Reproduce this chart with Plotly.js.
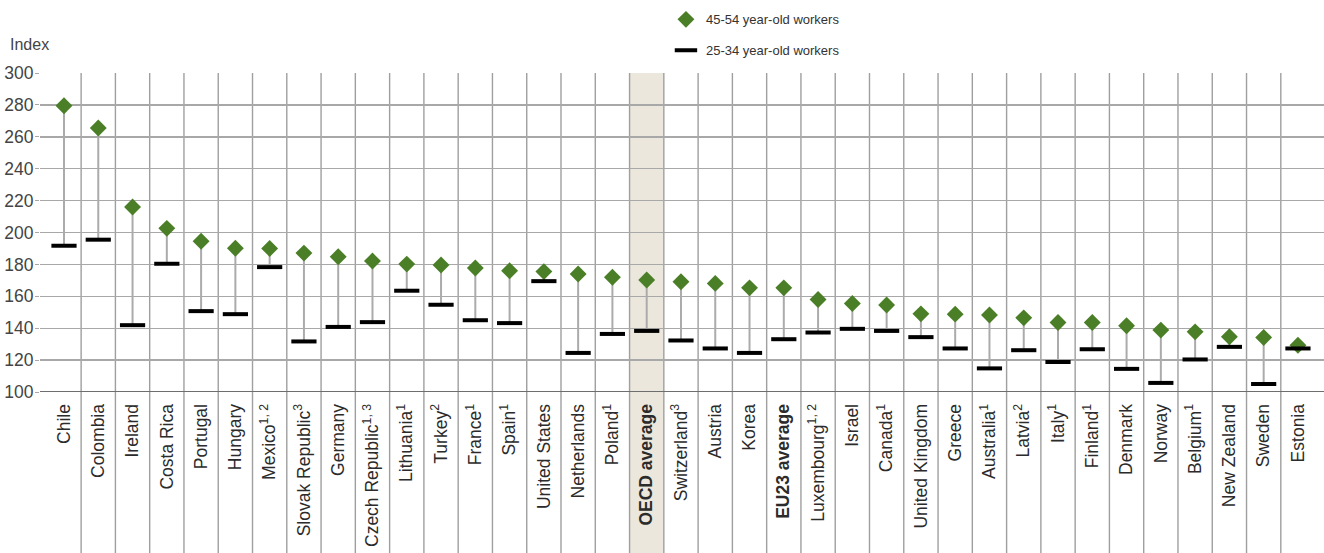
<!DOCTYPE html>
<html>
<head>
<meta charset="utf-8">
<script src="https://cdn.plot.ly/plotly-3.0.1.min.js"></script>
<style>html,body{margin:0;padding:0;background:#fff;}#chart{width:1324px;height:553px;}</style>
</head>
<body>
<div id="chart"></div>
<script>
const categories = ["Chile","Colombia","Ireland","Costa Rica","Portugal","Hungary","Mexico<sup>1, 2</sup>","Slovak Republic<sup>3</sup>","Germany","Czech Republic<sup>1, 3</sup>","Lithuania<sup>1</sup>","Turkey<sup>2</sup>","France<sup>1</sup>","Spain<sup>1</sup>","United States","Netherlands","Poland<sup>1</sup>","<b>OECD average</b>","Switzerland<sup>3</sup>","Austria","Korea","<b>EU23 average</b>","Luxembourg<sup>1, 2</sup>","Israel","Canada<sup>1</sup>","United Kingdom","Greece","Australia<sup>1</sup>","Latvia<sup>2</sup>","Italy<sup>1</sup>","Finland<sup>1</sup>","Denmark","Norway","Belgium<sup>1</sup>","New Zealand","Sweden","Estonia"];
const workers45to54 = [279.5,265.5,216,202.6,194.5,190.1,190,187.1,184.8,182.1,180.2,179.6,177.7,176,175.5,174,171.9,170.2,169.1,168.1,165.3,165.3,158,155.5,154.5,149,148.8,148.3,146.5,143.6,143.6,141.5,138.8,137.7,134.6,134.2,129.3];
const workers25to34 = [191.7,195.5,141.9,180.4,150.7,148.8,178.3,131.7,140.8,143.8,163.5,154.7,145,143.2,169.5,124.5,136.4,138.3,132.3,127.3,124.5,133.1,137.3,139.6,138.3,134.4,127.3,114.8,126.2,118.8,126.8,114.5,105.7,120.4,128.3,105,127.3];
const yTicks = [100,120,140,160,180,200,220,240,260,280,300];
const highlighted = "<b>OECD average</b>";

const connX = [], connY = [];
categories.forEach((c, i) => {
  connX.push(c, c, null);
  connY.push(workers25to34[i], workers45to54[i], null);
});

const traces = [
  {type:'scatter', mode:'lines', x:connX, y:connY, showlegend:false, hoverinfo:'skip',
   line:{color:'#ababab', width:2}},
  {type:'scatter', mode:'markers', name:'45-54 year-old workers', legendgroup:'a',
   x:categories, y:workers45to54,
   marker:{symbol:'diamond', size:13, color:'#4b7f27', line:{width:0}}},
  {type:'scatter', mode:'markers', name:'25-34 year-old workers', legendgroup:'b',
   x:categories, y:workers25to34,
   marker:{symbol:'line-ew', size:18, color:'#000', line:{color:'#000', width:4}}}
];

const hi = categories.indexOf(highlighted);
const shapes = [
  {type:'rect', xref:'x', yref:'paper', x0:hi-0.5, x1:hi+0.5, y0:-0.6, y1:1,
   fillcolor:'#ece7dc', line:{width:0}, layer:'below'}
];
for (let i = 0; i < categories.length - 1; i++) {
  shapes.push({type:'line', xref:'x', yref:'paper', x0:i+0.5, x1:i+0.5, y0:-0.6, y1:1,
    line:{color:'#9f9f9f', width:1.4}, layer:'below'});
}
shapes.push({type:'line', xref:'paper', yref:'y', x0:0, x1:1, y0:100, y1:100,
  line:{color:'#6e6e6e', width:2.2}, layer:'above'});

const layout = {
  width:1324, height:553,
  margin:{l:40, r:0, t:73, b:161, pad:0},
  paper_bgcolor:'#fff', plot_bgcolor:'#fff',
  font:{family:'Liberation Sans, Arial, sans-serif', color:'#333'},
  xaxis:{type:'category', range:[-0.70, 36.76], tickangle:-90, showgrid:false, zeroline:false,
    showline:false, ticks:'outside', ticklen:4, tickcolor:'rgba(0,0,0,0)',
    tickfont:{size:17.5, color:'#2b2b2b'}, fixedrange:true},
  yaxis:{range:[100,300], tickvals:yTicks, ticktext:yTicks.map(String), showgrid:true,
    gridcolor:'#a8a8a8', gridwidth:1.4, zeroline:false, showline:false,
    ticks:'outside', ticklen:4, tickcolor:'#a8a8a8', ticklabelstandoff:-2,
    tickfont:{size:17.5, color:'#444'}, fixedrange:true},
  showlegend:true,
  legend:{x:0.4875, y:1.215, xanchor:'left', yanchor:'top', orientation:'v', tracegroupgap:11,
    font:{size:13, family:'Liberation Sans, Arial, sans-serif', color:'#333'},
    bgcolor:'rgba(0,0,0,0)'},
  annotations:[{text:'Index', xref:'paper', yref:'paper', x:-0.0249, y:1.0878, xanchor:'left', yanchor:'middle',
    showarrow:false, font:{size:16, color:'#444'}}],
  shapes:shapes
};

Plotly.newPlot('chart', traces, layout, {displayModeBar:false, staticPlot:true});
</script>
</body>
</html>
